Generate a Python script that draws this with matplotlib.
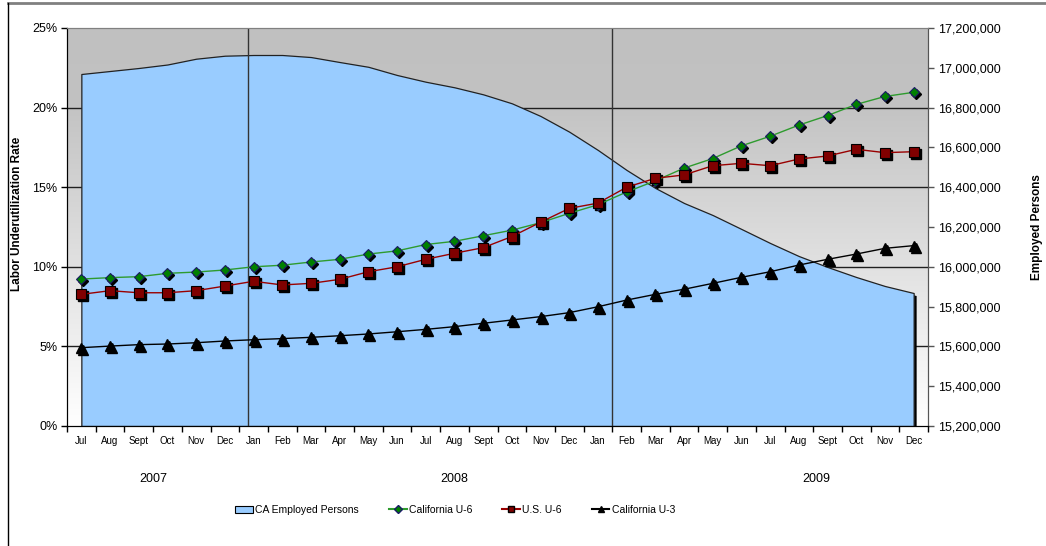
import numpy as np
import matplotlib.pyplot as plt
import matplotlib.transforms as mtransforms
from matplotlib.lines import Line2D
from matplotlib.patches import Patch
from matplotlib.colors import LinearSegmentedColormap
from matplotlib.ticker import FuncFormatter

# data (Jul 2007 - Dec 2009)
months = ['Jul', 'Aug', 'Sept', 'Oct', 'Nov', 'Dec',
          'Jan', 'Feb', 'Mar', 'Apr', 'May', 'Jun', 'Jul', 'Aug', 'Sept', 'Oct', 'Nov', 'Dec',
          'Jan', 'Feb', 'Mar', 'Apr', 'May', 'Jun', 'Jul', 'Aug', 'Sept', 'Oct', 'Nov', 'Dec']
years = ['2007', '2008', '2009']
year_pos = [2.5, 13.0, 25.6]

employed = [16968800, 16983900, 16999000, 17016600, 17045700, 17060800,
            17064300, 17064300, 17054000, 17029000, 17005000, 16963800,
            16930000, 16902000, 16866700, 16821600, 16757800, 16678900,
            16586900, 16486400, 16396000, 16320600, 16260000, 16190000,
            16119600, 16054000, 15999000, 15948700, 15903500, 15868300]
ca_u6 = [9.23, 9.32, 9.38, 9.59, 9.67, 9.80,
         10.0, 10.1, 10.3, 10.47, 10.8, 11.0, 11.4, 11.6, 11.95, 12.3, 12.77, 13.36,
         13.9, 14.7, 15.4, 16.2, 16.8, 17.6, 18.2, 18.9, 19.5, 20.2, 20.7, 20.96]
us_u6 = [8.27, 8.5, 8.37, 8.37, 8.5, 8.79,
         9.09, 8.86, 8.96, 9.21, 9.69, 10.0, 10.47, 10.85, 11.2, 11.9, 12.8, 13.67,
         14.0, 15.0, 15.56, 15.77, 16.35, 16.5, 16.35, 16.77, 16.96, 17.38, 17.17, 17.23]
ca_u3 = [4.92, 5.02, 5.11, 5.15, 5.23, 5.34,
         5.42, 5.49, 5.57, 5.67, 5.78, 5.92, 6.07, 6.24, 6.45, 6.66, 6.87, 7.12,
         7.49, 7.91, 8.27, 8.59, 8.96, 9.34, 9.69, 10.11, 10.47, 10.8, 11.16, 11.33]

plt.rcParams['font.family'] = ['Liberation Sans', 'DejaVu Sans']

fig = plt.figure(figsize=(10.46, 5.46), dpi=100)
ax = fig.add_axes([67/1046, 1-426/546, 861/1046, 398/546])
ax2 = ax.twinx()
ax.set_zorder(ax2.get_zorder() + 1)
ax.patch.set_visible(False)

x = np.arange(len(months))

# background gradient
cm = LinearSegmentedColormap.from_list('bg', [(0, '#c0c0c0'), (0.18, '#c2c2c2'), (1, '#ffffff')])
grad = np.linspace(0, 1, 256).reshape(-1, 1)
ax2.imshow(grad, cmap=cm, extent=[0, 1, 0, 1], transform=ax2.transAxes,
           aspect='auto', zorder=0)

# gridlines (under the area)
ax2.hlines([15.6e6, 16.0e6, 16.4e6, 16.8e6], -0.5, 29.5, color='#202020', lw=1, zorder=1)

# employed persons area + shadow
shadow2 = mtransforms.offset_copy(ax2.transData, fig=fig, x=3, y=-3, units='dots')
ax2.fill_between(x, employed, 15.2e6, facecolor='black', edgecolor='none',
                 transform=shadow2, zorder=1.5)
ax2.fill_between(x, employed, 15.2e6, facecolor='#99ccff', edgecolor='#222222',
                 lw=0.9, zorder=2)

ax2.set_ylim(15.2e6, 17.2e6)
ax2.set_yticks(np.arange(15.2e6, 17.2e6 + 1, 2e5))
ax2.yaxis.set_major_formatter(FuncFormatter(lambda v, p: '{:,.0f}'.format(v)))
ax2.tick_params(axis='y', length=4, width=1, labelsize=9, pad=3, color='#555555')
ax2.set_ylabel('Employed Persons', fontsize=8.5, fontweight='bold', rotation=90)
ax2.yaxis.set_label_coords(1.12, 0.5)

# year separators
ax.axvline(5.8, color='#333333', lw=1, zorder=1)
ax.axvline(18.5, color='#333333', lw=1, zorder=1)

# lines with shadowed markers
sh = mtransforms.offset_copy(ax.transData, fig=fig, x=2, y=-2, units='dots')
ax.plot(x, ca_u3, color='black', lw=1, zorder=3)
ax.plot(x, ca_u3, ls='none', marker='^', ms=7, color='black', transform=sh, zorder=2.5)
ax.plot(x, ca_u3, ls='none', marker='^', ms=7, color='black', zorder=4)

ax.plot(x, ca_u6, color='#2e9b2e', lw=1, zorder=3)
ax.plot(x, ca_u6, ls='none', marker='D', ms=5, color='black', transform=sh, zorder=2.5)
ax.plot(x, ca_u6, ls='none', marker='D', ms=5, mfc='#008000', mec='#1a1a66', mew=0.8, zorder=4)

ax.plot(x, us_u6, color='#990000', lw=1, zorder=3.1)
ax.plot(x, us_u6, ls='none', marker='s', ms=6.5, color='black', transform=sh, zorder=2.6)
ax.plot(x, us_u6, ls='none', marker='s', ms=6.5, mfc='#800000', mec='black', mew=0.8, zorder=4.1)

ax.set_xlim(-0.5, 29.5)
ax.set_ylim(0, 25)
ax.set_yticks([0, 5, 10, 15, 20, 25])
ax.set_yticklabels(['0%', '5%', '10%', '15%', '20%', '25%'])
ax.tick_params(axis='y', length=4, width=1, labelsize=9, pad=3)
ax.set_ylabel('Labor Underutilization Rate', fontsize=8.5, fontweight='bold')
ax.yaxis.set_label_coords(-0.051, 0.533)

ax.set_xticks(x)
ax.set_xticklabels(months)
ax.set_xticks(np.arange(-0.5, 30, 1), minor=True)
ax.tick_params(axis='x', which='major', length=0, labelsize=7, pad=7)
ax.tick_params(axis='x', which='minor', length=4, width=1)

blend = mtransforms.blended_transform_factory(ax.transData, ax.transAxes)
for yr, p in zip(years, year_pos):
    ax.text(p, -0.133, yr, transform=blend, ha='center', va='center', fontsize=9)

for a in (ax, ax2):
    a.spines['top'].set_color('#808080')
    a.spines['left'].set_color('black')
    a.spines['bottom'].set_color('black')
    a.spines['right'].set_color('#555555')

handles = [Patch(facecolor='#99ccff', edgecolor='black', lw=0.8),
           Line2D([], [], color='#2e9b2e', marker='D', ms=4, mfc='#008000', mec='#1a1a66'),
           Line2D([], [], color='#990000', marker='s', ms=5, mfc='#800000', mec='black'),
           Line2D([], [], color='black', marker='^', ms=5)]
labels = ['CA Employed Persons', 'California U-6', 'U.S. U-6', 'California U-3']
fig.legend(handles, labels, loc='center', bbox_to_anchor=(455/1046, 1-510/546), ncol=4,
           frameon=False, fontsize=7.5, handlelength=1.7, handletextpad=0.2,
           columnspacing=2.9)

# chart border
fig.add_artist(Line2D([8/1046, 1], [1-3/546, 1-3/546], color='#808080', lw=2))
fig.add_artist(Line2D([8/1046, 8/1046], [0, 1-3/546], color='black', lw=1))

fig.savefig('out.png', dpi=100)
